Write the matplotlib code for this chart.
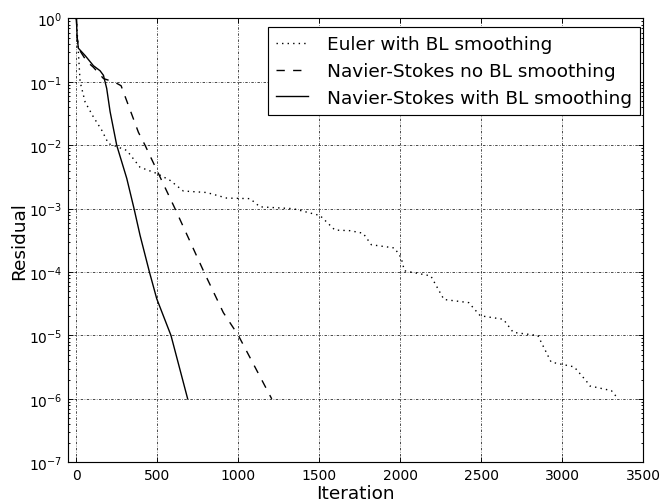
import matplotlib
matplotlib.use('Agg')
import matplotlib.pyplot as plt
from matplotlib.ticker import NullLocator, LogLocator

# Euler with BL smoothing
euler_iter = [0, 12, 23, 54, 105, 157, 198, 228, 311, 393, 496, 578, 660, 804, 928, 1072,
              1133, 1339, 1504, 1596, 1689, 1770, 1821, 1964, 2005, 2025, 2188, 2269, 2422,
              2493, 2636, 2697, 2849, 2931, 3073, 3149, 3170, 3303, 3345]
euler_res = [1.0, 0.3, 0.1, 0.048, 0.028, 0.0172, 0.0106, 0.0100, 0.0083, 0.0045, 0.0036,
             0.0028, 0.0019, 0.0018, 0.00147, 0.00144, 0.00107, 0.0010, 0.00078, 0.00046,
             0.00045, 0.00041, 0.00027, 0.00024, 0.000168, 0.000105, 8.7e-5, 3.7e-5, 3.3e-5,
             2.05e-5, 1.8e-5, 1.12e-5, 1.0e-5, 3.8e-6, 3.2e-6, 1.9e-6, 1.6e-6, 1.35e-6, 1.0e-6]

# Navier-Stokes no BL smoothing
ns_no_iter = [0, 5, 12, 64, 105, 167, 239, 276, 383, 424, 609, 788, 907, 1000, 1206]
ns_no_res = [1.0, 0.5, 0.34, 0.21, 0.17, 0.113, 0.098, 0.087, 0.016, 0.01, 0.001, 1e-4,
             2.3e-5, 1e-5, 1e-6]

# Navier-Stokes with BL smoothing
ns_bl_iter = [0, 5, 12, 54, 105, 146, 167, 187, 208, 249, 311, 356, 393, 451, 496, 584, 687]
ns_bl_res = [1.0, 0.5, 0.34, 0.26, 0.18, 0.15, 0.127, 0.079, 0.034, 0.01, 0.003, 0.001,
             3.8e-4, 1e-4, 3.8e-5, 1e-5, 1e-6]

x_ticks = [0, 500, 1000, 1500, 2000, 2500, 3000, 3500]

fig = plt.figure(figsize=(8, 6.039), dpi=83.125)
fig.patch.set_facecolor('white')
ax = fig.add_axes([0.1027, 0.0771, 0.8647, 0.8841])

ax.semilogy(euler_iter, euler_res, color='k', ls=(0, (1, 3)), lw=1.2,
            label='Euler with BL smoothing')
ax.semilogy(ns_no_iter, ns_no_res, color='k', ls=(0, (6, 6)), lw=1.2,
            label='Navier-Stokes no BL smoothing')
ax.semilogy(ns_bl_iter, ns_bl_res, color='k', ls='-', lw=1.2,
            label='Navier-Stokes with BL smoothing')

ax.set_xlim(-50, 3500)
ax.set_ylim(1e-7, 1)
ax.set_xticks(x_ticks)
ax.xaxis.set_minor_locator(NullLocator())
ax.yaxis.set_major_locator(LogLocator(base=10, numticks=20))
ax.yaxis.set_minor_locator(LogLocator(base=10, subs=range(2, 10), numticks=20))

ax.tick_params(which='both', direction='in', top=True, right=True, labelsize=12,
               color='k', width=0.8)
ax.tick_params(which='major', length=4, pad=5)
ax.tick_params(which='minor', length=2)
for s in ax.spines.values():
    s.set_linewidth(1.0)
    s.set_color('k')

ax.grid(True, which='major', color='k', ls=(0, (3.5, 2.2, 0.9, 2.2)), lw=0.6)
ax.set_axisbelow(False)

ax.set_xlabel('Iteration', fontsize=16, labelpad=2)
ax.set_ylabel('Residual', fontsize=16, labelpad=1)

leg = ax.legend(loc='upper right', bbox_to_anchor=(0.995, 0.981), borderaxespad=0.0,
                fontsize=16, handlelength=1.7, handletextpad=1.05, labelspacing=0.48,
                fancybox=False, framealpha=1.0, edgecolor='k', borderpad=0.45)
leg.get_frame().set_linewidth(1.0)

fig.savefig('out.png', dpi=83.125, facecolor='white')
